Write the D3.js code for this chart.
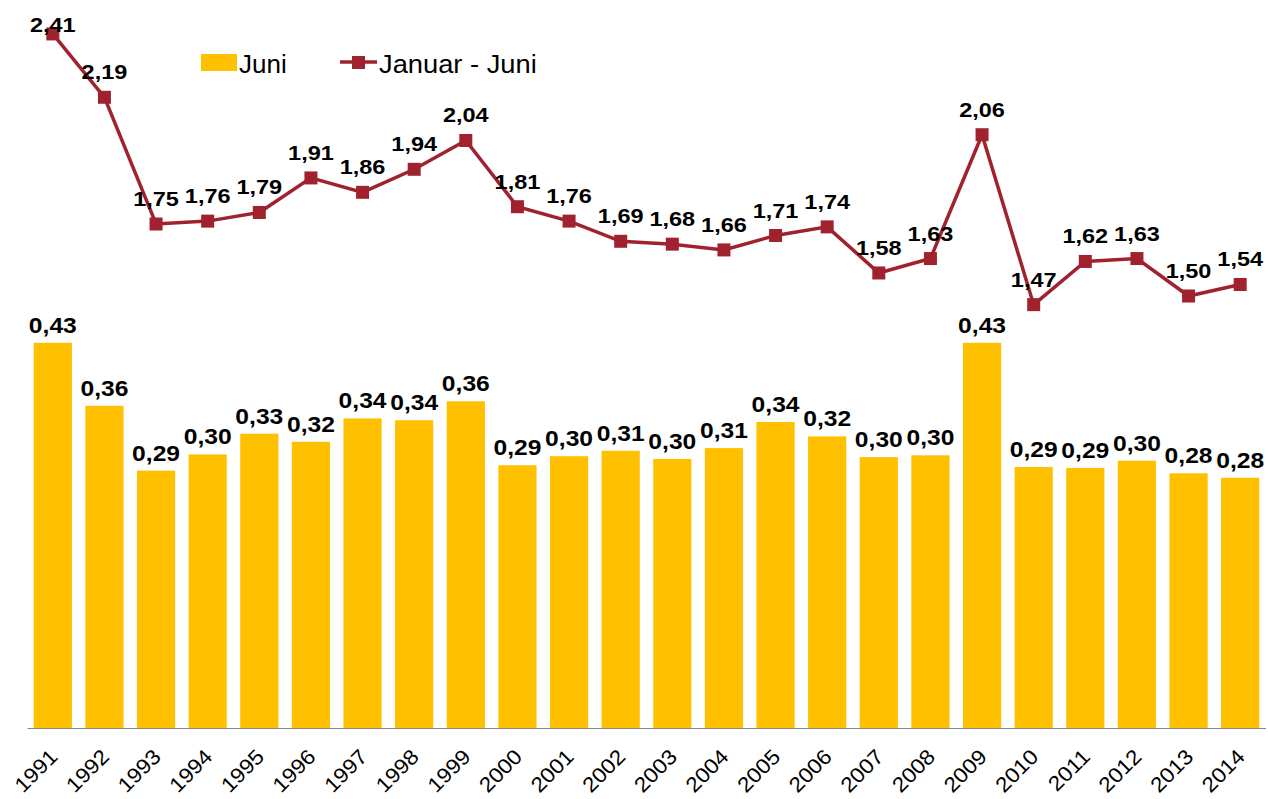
<!DOCTYPE html>
<html>
<head>
<meta charset="utf-8">
<script src="https://cdn.jsdelivr.net/npm/d3@7"></script>
<style>
    body { margin: 0; background: #fff; }
    svg { display: block; font-family: 'Liberation Sans', Arial, sans-serif; }
</style>
</head>
<body>
<div id="chart"></div>
<script>
    'use strict';

    var years = ['1991', '1992', '1993', '1994', '1995', '1996', '1997', '1998', '1999', '2000',
        '2001', '2002', '2003', '2004', '2005', '2006', '2007', '2008', '2009', '2010',
        '2011', '2012', '2013', '2014'];

    // Juni (bars)
    var juni = [0.428, 0.358, 0.286, 0.304, 0.327, 0.318, 0.344, 0.342, 0.363, 0.292,
        0.302, 0.308, 0.299, 0.311, 0.340, 0.324, 0.301, 0.303, 0.428, 0.290,
        0.289, 0.297, 0.283, 0.278];

    // Januar - Juni (line)
    var januarJuni = [2.41, 2.19, 1.75, 1.76, 1.79, 1.91, 1.86, 1.94, 2.04, 1.81,
        1.76, 1.69, 1.68, 1.66, 1.71, 1.74, 1.58, 1.63, 2.06, 1.47,
        1.62, 1.63, 1.50, 1.54];

    var seriesNames = ['Juni', 'Januar - Juni'];

    var width = 1268;
    var height = 799;
    var barColor = '#FFC000';
    var lineColor = '#A0222E';

    var fmt = function (v) { return d3.format('.2f')(v).replace('.', ','); };

    var svg = d3.select('#chart').append('svg')
        .attr('width', width)
        .attr('height', height);

    var x = d3.scaleBand()
        .domain(years)
        .range([27, 1266])
        .paddingInner(0.26)
        .paddingOuter(0.13);

    var yBar = d3.scaleLinear().domain([0, 0.8]).range([728, 8]);
    var yLine = d3.scaleLinear().domain([0, 2.5]).range([728, 8]);
    var cx = function (i) { return x(years[i]) + x.bandwidth() / 2; };

    // bars
    svg.append('g').selectAll('rect')
        .data(juni)
        .enter().append('rect')
        .attr('x', function (d, i) { return x(years[i]); })
        .attr('y', function (d) { return yBar(d); })
        .attr('width', x.bandwidth())
        .attr('height', function (d) { return yBar(0) - yBar(d); })
        .style('fill', barColor);

    svg.append('g').selectAll('text')
        .data(juni)
        .enter().append('text')
        .attr('transform', function (d, i) {
            return 'translate(' + cx(i) + ',' + (yBar(d) - 10) + ') scale(1.12,1)';
        })
        .attr('text-anchor', 'middle')
        .style('font-size', '22px')
        .style('font-weight', 'bold')
        .text(fmt);

    // x axis
    var xAxis = svg.append('g')
        .attr('transform', 'translate(0,728)')
        .call(d3.axisBottom(x).tickSize(0).tickPadding(0));
    xAxis.select('.domain').attr('stroke', '#888').attr('d', 'M27.5,0.5H1266');
    xAxis.selectAll('.tick text')
        .attr('y', 0)
        .attr('dy', 0)
        .attr('text-anchor', 'end')
        .attr('transform', 'translate(6,30) rotate(-45) scale(1.08,1)')
        .style('font-size', '21px')
        .style('font-family', "'Liberation Sans', Arial, sans-serif")
        .style('fill', '#000');

    // line
    var line = d3.line()
        .x(function (d, i) { return cx(i); })
        .y(function (d) { return yLine(d); });

    svg.append('path')
        .datum(januarJuni)
        .attr('d', line)
        .style('fill', 'none')
        .style('stroke', lineColor)
        .style('stroke-width', 3.5);

    svg.append('g').selectAll('rect')
        .data(januarJuni)
        .enter().append('rect')
        .attr('x', function (d, i) { return cx(i) - 6.5; })
        .attr('y', function (d) { return yLine(d) - 6.5; })
        .attr('width', 13)
        .attr('height', 13)
        .style('fill', lineColor);

    svg.append('g').selectAll('text')
        .data(januarJuni)
        .enter().append('text')
        .attr('transform', function (d, i) {
            return 'translate(' + cx(i) + ',' + Math.max(32, yLine(d) - 18) + ') scale(1.12,1)';
        })
        .attr('text-anchor', 'middle')
        .style('font-size', '21px')
        .style('font-weight', 'bold')
        .text(fmt);

    // legend
    var legend = svg.append('g');
    legend.append('rect')
        .attr('x', 201).attr('y', 54)
        .attr('width', 36).attr('height', 17)
        .style('fill', barColor);
    legend.append('text')
        .attr('x', 239).attr('y', 73)
        .style('font-size', '26px')
        .text(seriesNames[0]);
    legend.append('line')
        .attr('x1', 340).attr('x2', 377)
        .attr('y1', 62).attr('y2', 62)
        .style('stroke', lineColor)
        .style('stroke-width', 3.5);
    legend.append('rect')
        .attr('x', 352).attr('y', 56)
        .attr('width', 13).attr('height', 13)
        .style('fill', lineColor);
    legend.append('text')
        .attr('transform', 'translate(379,73) scale(1.05,1)')
        .style('font-size', '26px')
        .text(seriesNames[1]);
</script>
</body>
</html>
